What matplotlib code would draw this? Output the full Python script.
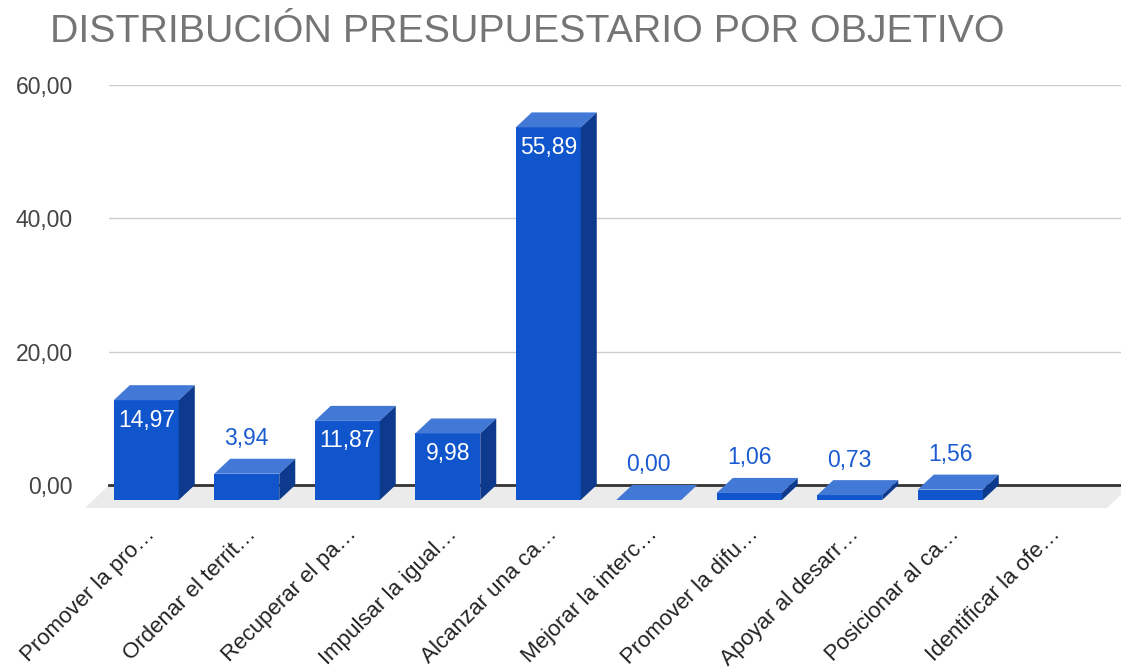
import matplotlib
matplotlib.use("Agg")
import matplotlib.pyplot as plt
from matplotlib.patches import Polygon

plt.rcParams['font.family'] = ['Liberation Sans', 'DejaVu Sans']

# ---- data ----
categories = ["Promover la pro…", "Ordenar el territ…", "Recuperar el pa…",
              "Impulsar la igual…", "Alcanzar una ca…", "Mejorar la interc…",
              "Promover la difu…", "Apoyar al desarr…", "Posicionar al ca…",
              "Identificar la ofe…"]
values = [14.97, 3.94, 11.87, 9.98, 55.89, 0.00, 1.06, 0.73, 1.56, None]
y_ticks = [0, 20, 40, 60]
title = "DISTRIBUCIÓN PRESUPUESTARIO POR OBJETIVO"

# ---- style ----
FRONT = "#1155CC"
TOP = "#4379D6"
SIDE = "#0D3A8C"
FLOOR = "#EBEBEB"
LABEL_OUT = "#1A5BD1"
W, H = 1121, 672

fig = plt.figure(figsize=(W / 100, H / 100), dpi=100)
ax = fig.add_axes([109 / W, (H - 485) / H, 1012 / W, 400 / H])
ax.set_xlim(-0.53, 9.54)
ax.set_ylim(0, 60)
for s in ax.spines.values():
    s.set_visible(False)
ax.set_yticks(y_ticks)
ax.set_yticklabels([f"{t:.2f}".replace(".", ",") for t in y_ticks])
ax.tick_params(axis='y', length=0, pad=26, labelsize=16.5, labelcolor="#444444")
ax.set_xticks([])
ax.yaxis.grid(True, color="#CCCCCC", lw=1)
ax.set_axisbelow(True)


def px(dxp, dyp):
    x0, y0 = ax.transData.transform((0, 0))
    x1, y1 = ax.transData.inverted().transform((x0 + dxp, y0 + dyp))
    return x1, y1


bw = 0.647
fx, fy = px(-16, -15)

# floor
flx, fly = px(-24, -23)
xl0, xl1 = ax.get_xlim()
ax.add_patch(Polygon([(xl0, 0), (xl1 + 0.1, 0), (xl1 + 0.1 + flx, fly), (xl0 + flx, fly)],
                     closed=True, color=FLOOR, lw=0, clip_on=False, zorder=1))
ax.axhline(0, color="#333333", lw=2, zorder=2, clip_on=False)

in_dx, in_dy = px(0, -20)
out_dx, out_dy = px(0, 35)

for i, v in enumerate(values):
    if v is None:
        continue
    xl, xr = i - bw / 2, i + bw / 2
    # front face
    ax.bar(i + fx, v, bottom=fy, width=bw, color=FRONT, lw=0, zorder=3, clip_on=False)
    # top face
    ax.add_patch(Polygon([(xl + fx, v + fy), (xr + fx, v + fy), (xr, v), (xl, v)],
                         closed=True, color=TOP, lw=0, zorder=3, clip_on=False))
    # side face
    ax.add_patch(Polygon([(xr + fx, fy), (xr, 0), (xr, v), (xr + fx, v + fy)],
                         closed=True, color=SIDE, lw=0, zorder=3, clip_on=False))
    lab = f"{v:.2f}".replace(".", ",")
    if v >= 5:
        ax.text(i + fx, v + fy + in_dy, lab, ha='center', va='center', color='white',
                fontsize=16.5, zorder=4)
    else:
        ax.text(i + fx, v + fy + out_dy, lab, ha='center', va='center', color=LABEL_OUT,
                fontsize=16.5, zorder=4)

lx, ly = px(-6, -50)
for i, c in enumerate(categories):
    ax.text(i + lx, ly, c, rotation=45, rotation_mode='anchor', ha='right', va='baseline',
            fontsize=16, color="#222222", clip_on=False)

fig.text(50 / W, 1 - 42 / H, title, fontsize=28.4, color="#757575", ha='left', va='baseline')

fig.savefig("out.png", dpi=100, facecolor='white')
